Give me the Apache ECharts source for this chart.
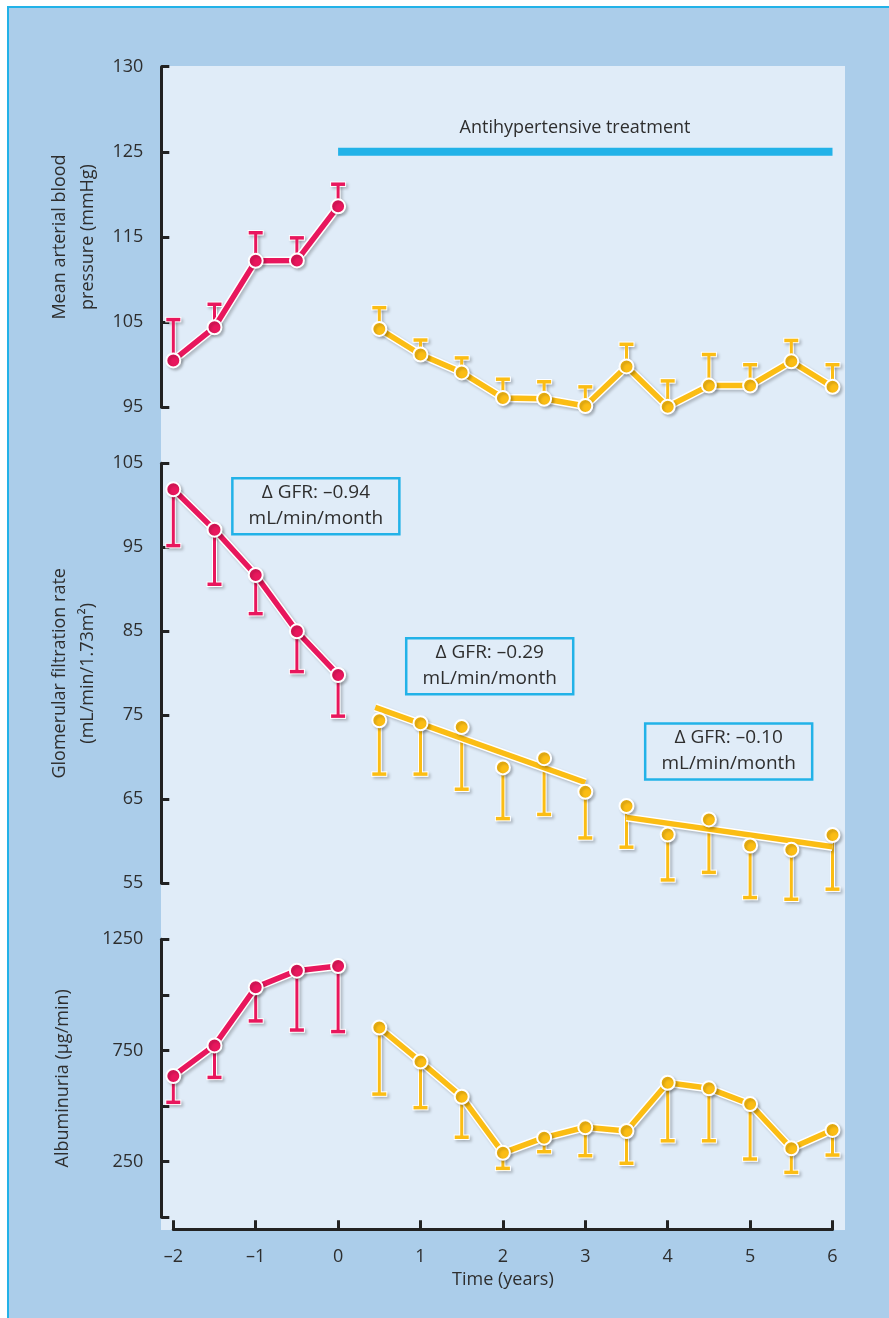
<!DOCTYPE html>
<html>
<head>
<meta charset="utf-8">
<script src="https://cdn.jsdelivr.net/npm/echarts@6/dist/echarts.min.js"></script>
<style>
  html, body { margin: 0; padding: 0; background: #ffffff; }
  #frame { position: absolute; left: 7px; top: 6px; width: 900px; height: 1330px;
           background: #abcdea; border-top: 2px solid #22b2e8; border-left: 2px solid #22b2e8; }
  #plot  { position: absolute; left: 161px; top: 66px; width: 684px; height: 1164px; background: #e0ecf8; }
  #chart { position: absolute; left: 0; top: 0; width: 889px; height: 1318px; }
</style>
</head>
<body>
<div id="frame"></div>
<div id="plot"></div>
<div id="chart"></div>
<script>
// ---- time points (years) ----
const preTime = [-2, -1.5, -1, -0.5, 0];
const txTime = [0.5, 1, 1.5, 2, 2.5, 3, 3.5, 4, 4.5, 5, 5.5, 6];

// ---- mean arterial blood pressure (mmHg), mean and upper error ----
const mapPre = [100.5, 104.4, 112.2, 112.25, 118.6];
const mapPreErr = [105.3, 107.1, 115.5, 114.9, 121.2];
const mapTx = [104.2, 101.2, 99.1, 96.1, 96.0, 95.15, 99.8, 95.07, 97.55, 97.55, 100.4, 97.4];
const mapTxErr = [106.7, 102.9, 100.8, 98.3, 98.0, 97.4, 102.4, 98.1, 101.2, 100.0, 102.85, 100.0];
const mapTickLabels = ['95', '105', '115', '125', '130'];
const treatmentLevel = 125;
const treatmentSpan = [0, 6];

// ---- glomerular filtration rate, mean and lower error ----
const gfrPre = [101.9, 97.1, 91.7, 85.0, 79.8];
const gfrPreErr = [95.2, 90.6, 87.1, 80.2, 74.9];
const gfrTx = [74.4, 74.05, 73.6, 68.8, 69.9, 65.9, 64.2, 60.8, 62.6, 59.5, 59.0, 60.75];
const gfrTxErr = [68.0, 68.0, 66.2, 62.7, 63.2, 60.4, 59.3, 55.4, 56.3, 53.3, 53.1, 54.3];
const gfrTrendEarly = [[0.45, 75.95], [3.0, 67.0]];
const gfrTrendLate = [[3.5, 62.85], [6.0, 59.35]];
const gfrSlopes = ['–0.94', '–0.29', '–0.10'];

// ---- albuminuria (µg/min), mean and lower error ----
const albPre = [635, 773, 1034, 1109, 1130];
const albPreErr = [517, 629, 883, 842, 835];
const albTx = [853, 700, 542, 290, 358, 405, 388, 605, 580, 509, 310, 393];
const albTxErr = [554, 493, 360, 220, 295, 277, 243, 344, 344, 262, 202, 280];
const albTickLabels = ['250', '750', '1250'];

// ---- style ----
const RED = '#e8175d';
const YEL = '#fbbd14';
const CYAN = '#22b2e8';
const TXT = '#2e2e2e';
const AXIS = '#222222';
const FONT = '"Open Sans", "Noto Sans", sans-serif';
const SHADOW = { shadowColor: 'rgba(0,0,0,0.22)', shadowBlur: 3, shadowOffsetX: 2, shadowOffsetY: 2 };

const zip = (t, v) => t.map((x, i) => [x, v[i]]);
const zip3 = (t, v, e) => t.map((x, i) => [x, v[i], e[i]]);

const chart = echarts.init(document.getElementById('chart'), null, { renderer: 'canvas' });

const gridBase = { left: 173.3, right: 56.5, outerBoundsMode: 'none', containLabel: false };
const grids = [
  Object.assign({ top: 66.7, height: 340.6 }, gridBase),
  Object.assign({ top: 463.3, height: 420 }, gridBase),
  Object.assign({ top: 939.3, height: 278 }, gridBase)
];

function xAxis(idx, visible) {
  return {
    type: 'value', gridIndex: idx, min: -2, max: 6, interval: 1, show: visible,
    position: 'bottom', offset: 12,
    name: visible ? 'Time (years)' : '', nameLocation: 'middle', nameGap: 42,
    nameTextStyle: { fontSize: 18, color: TXT, fontFamily: FONT },
    axisLine: { show: true, onZero: false, lineStyle: { color: AXIS, width: 3 } },
    axisTick: { show: true, inside: true, length: 9, lineStyle: { color: AXIS, width: 3 } },
    axisLabel: { fontSize: 18, color: TXT, fontFamily: FONT, margin: 19,
                 formatter: v => (v < 0 ? '–' + Math.abs(v) : String(v)) },
    splitLine: { show: false }
  };
}

function yAxis(idx, min, max, interval, name, gap, fmt) {
  return {
    type: 'value', gridIndex: idx, min, max, interval, position: 'left', offset: 12,
    name, nameLocation: 'middle', nameGap: gap,
    nameTextStyle: { fontSize: 18, color: TXT, fontFamily: FONT, lineHeight: 28 },
    axisLine: { show: true, onZero: false, lineStyle: { color: AXIS, width: 3 } },
    axisTick: { show: true, inside: true, length: 8, lineStyle: { color: AXIS, width: 3 } },
    axisLabel: { fontSize: 18, color: TXT, fontFamily: FONT, margin: 18, formatter: fmt },
    splitLine: { show: false }
  };
}

// vertical error whisker from the mean to the bound, with a cap at the bound
function errorBars(gi, data, color) {
  return {
    type: 'custom', xAxisIndex: gi, yAxisIndex: gi, z: 2, silent: true,
    data, encode: { x: 0, y: [1, 2] },
    renderItem: (params, api) => {
      const p = api.coord([api.value(0), api.value(1)]);
      const q = api.coord([api.value(0), api.value(2)]);
      const c = 7;
      return {
        type: 'group',
        children: [
          { type: 'line', shape: { x1: p[0], y1: p[1], x2: q[0], y2: q[1] },
            style: Object.assign({ stroke: '#ffffff', lineWidth: 5 }, SHADOW) },
          { type: 'line', shape: { x1: q[0] - c - 1, y1: q[1], x2: q[0] + c + 1, y2: q[1] },
            style: Object.assign({ stroke: '#ffffff', lineWidth: 5.5 }, SHADOW) },
          { type: 'line', shape: { x1: p[0], y1: p[1], x2: q[0], y2: q[1] },
            style: { stroke: color, lineWidth: 3 } },
          { type: 'line', shape: { x1: q[0] - c, y1: q[1], x2: q[0] + c, y2: q[1] },
            style: { stroke: color, lineWidth: 3.5 } }
        ]
      };
    }
  };
}

// white outline under a connecting line
function halo(gi, data) {
  return {
    type: 'line', xAxisIndex: gi, yAxisIndex: gi, z: 3, silent: true, data,
    symbol: 'none', lineStyle: Object.assign({ color: '#ffffff', width: 8.5 }, SHADOW)
  };
}

function trace(gi, data, color, withSymbols) {
  return {
    type: 'line', xAxisIndex: gi, yAxisIndex: gi, z: 4, silent: true, data,
    symbol: withSymbols ? 'circle' : 'none', symbolSize: 14, showSymbol: withSymbols,
    itemStyle: Object.assign({ color, borderColor: '#ffffff', borderWidth: 2 }, SHADOW),
    lineStyle: { color, width: 5.5 }
  };
}

function dots(gi, data, color) {
  return {
    type: 'scatter', xAxisIndex: gi, yAxisIndex: gi, z: 5, silent: true, data,
    symbol: 'circle', symbolSize: 14,
    itemStyle: Object.assign({ color, borderColor: '#ffffff', borderWidth: 2, opacity: 1 }, SHADOW)
  };
}

const option = {
  animation: false,
  grid: grids,
  xAxis: [xAxis(0, false), xAxis(1, false), xAxis(2, true)],
  yAxis: [
    yAxis(0, 95, 135, 10, 'Mean arterial blood\npressure (mmHg)', 55,
          v => mapTickLabels[Math.round((v - 95) / 10)]),
    yAxis(1, 55, 105, 10, 'Glomerular filtration rate\n(mL/min/1.73m²)', 55, v => String(v)),
    yAxis(2, 0, 1250, 250, 'Albuminuria (µg/min)', 84,
          v => (albTickLabels.indexOf(String(v)) >= 0 ? String(v) : ''))
  ],
  series: [
    // blood pressure
    { type: 'line', xAxisIndex: 0, yAxisIndex: 0, z: 1, silent: true, symbol: 'none',
      data: treatmentSpan.map(t => [t, treatmentLevel]),
      lineStyle: { color: CYAN, width: 8, cap: 'butt' } },
    errorBars(0, zip3(preTime, mapPre, mapPreErr), RED),
    errorBars(0, zip3(txTime, mapTx, mapTxErr), YEL),
    halo(0, zip(preTime, mapPre)),
    halo(0, zip(txTime, mapTx)),
    trace(0, zip(preTime, mapPre), RED, true),
    trace(0, zip(txTime, mapTx), YEL, true),
    // glomerular filtration rate
    errorBars(1, zip3(preTime, gfrPre, gfrPreErr), RED),
    errorBars(1, zip3(txTime, gfrTx, gfrTxErr), YEL),
    halo(1, zip(preTime, gfrPre)),
    halo(1, gfrTrendEarly),
    halo(1, gfrTrendLate),
    trace(1, zip(preTime, gfrPre), RED, true),
    trace(1, gfrTrendEarly, YEL, false),
    trace(1, gfrTrendLate, YEL, false),
    dots(1, zip(txTime, gfrTx), YEL),
    // albuminuria
    errorBars(2, zip3(preTime, albPre, albPreErr), RED),
    errorBars(2, zip3(txTime, albTx, albTxErr), YEL),
    halo(2, zip(preTime, albPre)),
    halo(2, zip(txTime, albTx)),
    trace(2, zip(preTime, albPre), RED, true),
    trace(2, zip(txTime, albTx), YEL, true)
  ]
};
chart.setOption(option);

// ---- annotations placed in data coordinates ----
const treatLabelPos = chart.convertToPixel({ gridIndex: 0 }, [2.875, 127.8]);
const slopeBoxCenters = [[-0.27, 99.9], [1.84, 80.85], [4.74, 70.7]];
const boxW = 167, boxH = 56;

const graphics = [{
  type: 'text', x: treatLabelPos[0], y: treatLabelPos[1], silent: true,
  style: { text: 'Antihypertensive treatment', fill: TXT, font: '18px ' + FONT,
           textAlign: 'center', textVerticalAlign: 'middle' }
}];
slopeBoxCenters.forEach((c, i) => {
  const p = chart.convertToPixel({ gridIndex: 1 }, c);
  graphics.push({
    type: 'group', x: p[0], y: p[1], silent: true,
    children: [
      { type: 'rect', shape: { x: -boxW / 2, y: -boxH / 2, width: boxW, height: boxH },
        style: { fill: '#e0ecf8', stroke: CYAN, lineWidth: 2.5 } },
      { type: 'text', x: 0, y: -1,
        style: { text: 'Δ GFR: ' + gfrSlopes[i] + '\nmL/min/month', fill: TXT,
                 font: '19px ' + FONT, lineHeight: 26, textAlign: 'center', textVerticalAlign: 'middle' } }
    ]
  });
});
chart.setOption({ graphic: graphics });
</script>
</body>
</html>
